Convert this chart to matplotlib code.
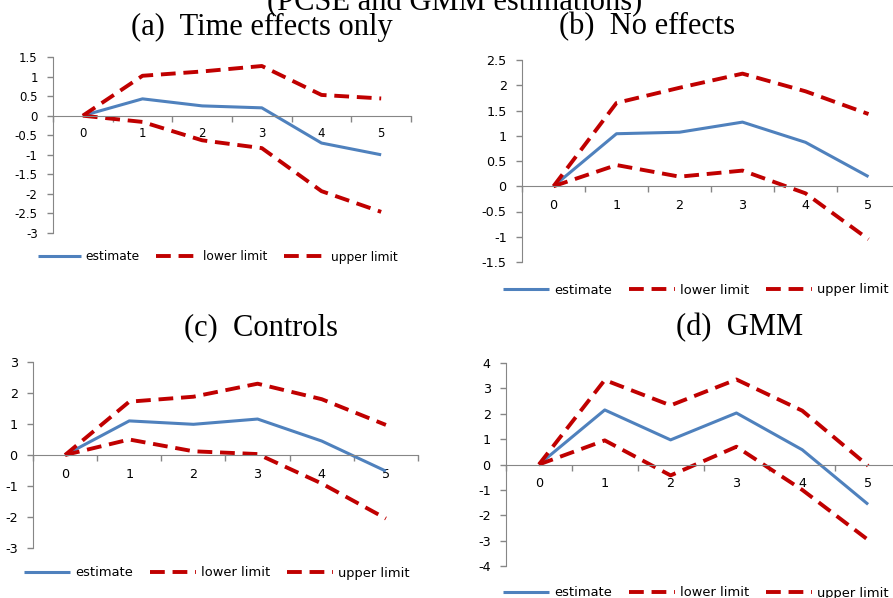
import numpy as np
import matplotlib
matplotlib.use('Agg')
import matplotlib.pyplot as plt

W, H = 893, 598

horizons = [0, 1, 2, 3, 4, 5]

# (a) Time effects only
a_est = [0, 0.43, 0.25, 0.20, -0.70, -1.00]
a_low = [0, -0.16, -0.63, -0.83, -1.93, -2.46]
a_up = [0, 1.02, 1.13, 1.27, 0.53, 0.44]
a_ticks = [1.5, 1, 0.5, 0, -0.5, -1, -1.5, -2, -2.5, -3]

# (b) No effects
b_est = [0, 1.04, 1.07, 1.27, 0.87, 0.19]
b_low = [0, 0.42, 0.19, 0.31, -0.14, -1.05]
b_up = [0, 1.65, 1.95, 2.23, 1.88, 1.43]
b_ticks = [2.5, 2, 1.5, 1, 0.5, 0, -0.5, -1, -1.5]

# (c) Controls
c_est = [0, 1.10, 0.99, 1.16, 0.45, -0.52]
c_low = [0, 0.50, 0.12, 0.03, -0.92, -2.05]
c_up = [0, 1.72, 1.88, 2.30, 1.80, 0.97]
c_ticks = [3, 2, 1, 0, -1, -2, -3]

# (d) GMM
d_est = [0, 2.15, 0.97, 2.03, 0.58, -1.57]
d_low = [0, 0.95, -0.43, 0.70, -1.00, -2.97]
d_up = [0, 3.33, 2.33, 3.35, 2.12, -0.05]
d_ticks = [4, 3, 2, 1, 0, -1, -2, -3, -4]

BLUE = '#4F81BD'
RED = '#C00000'
GRAY = '#868686'
SANS = 'DejaVu Sans'
SERIF = 'Liberation Serif'


def box(x0, x1, y0, y1):
    return [x0 / W, 1 - y1 / H, (x1 - x0) / W, (y1 - y0) / H]


def panel(fig, rect, est, low, up, yticks, title, title_xy, leg_xy, fs, lfs, xpad=9):
    ax = fig.add_axes(box(*rect))
    l1, = ax.plot(horizons, est, color=BLUE, lw=2.2, solid_capstyle='butt')
    l2, = ax.plot(horizons, low, color=RED, lw=2.8, ls=(0, (3.8, 2.0)))
    l3, = ax.plot(horizons, up, color=RED, lw=2.8, ls=(0, (3.8, 2.0)))
    ax.set_xlim(-0.5, 5.5)
    ax.set_ylim(min(yticks), max(yticks))
    for s in ['top', 'right']:
        ax.spines[s].set_visible(False)
    ax.spines['left'].set_color(GRAY)
    ax.spines['bottom'].set_color(GRAY)
    ax.spines['bottom'].set_position(('data', 0))
    ax.set_yticks(yticks)
    ax.set_yticklabels(['%g' % t for t in yticks], fontsize=fs, family=SANS)
    ax.tick_params(axis='y', colors=GRAY, labelcolor='black', length=4, width=1, pad=7)
    ax.set_xticks(np.arange(-0.5, 6, 1))
    ax.set_xticklabels([])
    ax.tick_params(axis='x', which='major', colors=GRAY, length=4, width=1, direction='out')
    ax.set_xticks(horizons, minor=True)
    ax.set_xticklabels([str(h) for h in horizons], minor=True, fontsize=fs, family=SANS)
    ax.tick_params(axis='x', which='minor', length=0, pad=xpad, labelcolor='black')
    ax.patch.set_alpha(0)
    fig.text(title_xy[0] / W, 1 - title_xy[1] / H, title, family=SERIF, fontsize=22,
             ha='center', va='center')
    ax.legend([l1, l2, l3], ['estimate', 'lower limit', 'upper limit'], ncol=3,
              loc='center', bbox_to_anchor=(leg_xy[0] / W, 1 - leg_xy[1] / H),
              bbox_transform=fig.transFigure, frameon=False, handlelength=3.5,
              columnspacing=1.3, handletextpad=0.4,
              prop={'family': SANS, 'size': lfs})
    return ax


fig = plt.figure(figsize=(W / 100, H / 100), dpi=100)

fig.text(455 / W, 1 - 10 / H, '(PCSE and GMM estimations)', family=SERIF, fontsize=22,
         ha='center', va='baseline')

panel(fig, (53, 411, 57, 233), a_est, a_low, a_up, a_ticks,
      '(a)  Time effects only', (262, 27), (218, 257), 8.5, 8.8, xpad=8)
panel(fig, (522, 900, 60, 262), b_est, b_low, b_up, b_ticks,
      '(b)  No effects', (647, 27), (696, 290), 9.2, 9.4)
panel(fig, (33, 418, 362, 548), c_est, c_low, c_up, c_ticks,
      '(c)  Controls', (261, 328), (217, 573), 9.2, 9.4)
panel(fig, (506, 901, 363, 566), d_est, d_low, d_up, d_ticks,
      '(d)  GMM', (740, 328), (696, 593), 9.2, 9.4)

fig.savefig('out.png', dpi=100)
